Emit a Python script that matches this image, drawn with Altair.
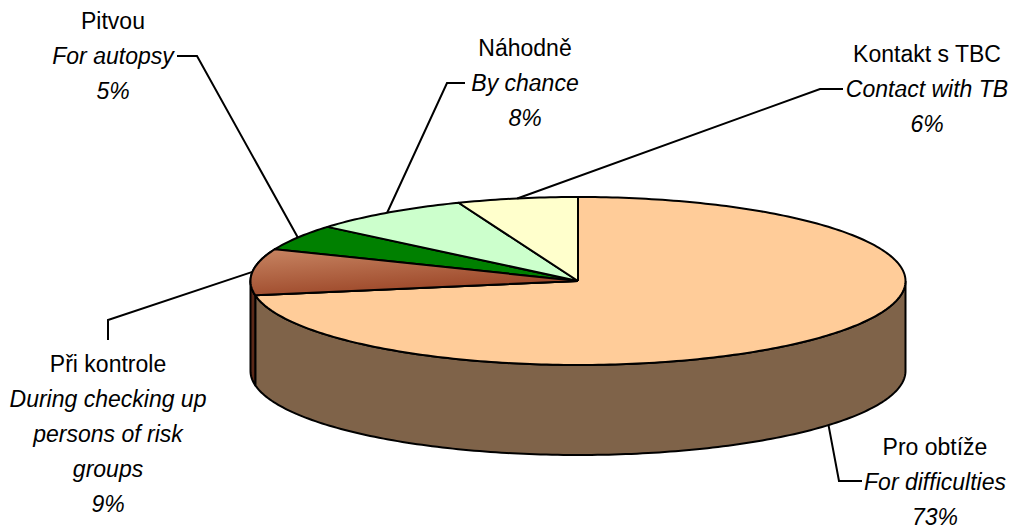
import math
import pandas as pd
import altair as alt

# Reasons for the examination, clockwise from 12 o'clock
names_cz = ["Pro obtíže", "Při kontrole", "Pitvou", "Náhodně", "Kontakt s TBC"]
names_en = [
    ["For difficulties"],
    ["During checking up", "persons of risk", "groups"],
    ["For autopsy"],
    ["By chance"],
    ["Contact with TB"],
]
values = [73, 9, 5, 8, 6]  # percent

top_colors = ["#FFCC99", "#B0603C", "#008000", "#CCFFCC", "#FFFFCC"]
side_colors = ["#7F6349", "#5A2818", "#004000", "#668066", "#808066"]

# Pie geometry (plot units == pixels)
W, H = 1012, 529
CX, CY = 578, 281
RX, RY = 327.5, 84
DEPTH = 90
FONT = "Liberation Sans, Arial, sans-serif"
FONT_SIZE = 23
LINE_GAP = 35

# Label blocks: centre x, first baseline, elbow points of the leader line
label_layout = {
    "Pro obtíže": dict(cx=935, y0=455, leader=[(862, 481), (839, 481)]),
    "Při kontrole": dict(cx=108, y0=372, leader=[(108, 340), (108, 320)]),
    "Pitvou": dict(cx=113, y0=29, leader=[(177, 56), (197, 56)]),
    "Náhodně": dict(cx=525, y0=56, leader=[(465, 83), (447, 83)]),
    "Kontakt s TBC": dict(cx=927, y0=62, leader=[(843, 89), (820, 89)]),
}


def ellipse(deg, drop=0.0):
    t = math.radians(deg)
    return CX + RX * math.sin(t), CY - RY * math.cos(t) + drop


total = float(sum(values))
bounds = []
acc = 0.0
for v in values:
    start = acc / total * 360
    acc += v
    bounds.append((start, acc / total * 360))


def arc(a, b, drop=0.0, step=1.0):
    n = max(2, int(math.ceil(abs(b - a) / step)) + 1)
    return [ellipse(a + (b - a) * k / (n - 1), drop) for k in range(n)]


top_rows, side_rows = [], []
for name, (a, b) in zip(names_cz, bounds):
    pts = [(CX, CY)] + arc(a, b) + [(CX, CY)]
    top_rows += [dict(slice=name, order=i, x=x, y=y) for i, (x, y) in enumerate(pts)]
    lo, hi = max(a, 90.0), min(b, 270.0)
    if hi > lo:
        pts = arc(lo, hi) + arc(hi, lo, DEPTH)
        pts.append(pts[0])
        side_rows += [dict(slice=name, order=i, x=x, y=y) for i, (x, y) in enumerate(pts)]

top_df = pd.DataFrame(top_rows)
side_df = pd.DataFrame(side_rows)

leader_rows, name_rows, italic_rows = [], [], []
for name, en_lines, v, (a, b) in zip(names_cz, names_en, values, bounds):
    lay = label_layout[name]
    mid = (a + b) / 2
    drop = DEPTH if math.cos(math.radians(mid)) < 0 else 0.0
    pts = lay["leader"] + [ellipse(mid, drop)]
    leader_rows += [dict(label=name, order=i, x=x, y=y) for i, (x, y) in enumerate(pts)]
    name_rows.append(dict(x=lay["cx"], y=lay["y0"], text=name))
    for k, line in enumerate(en_lines + [f"{v}%"]):
        italic_rows.append(dict(x=lay["cx"], y=lay["y0"] + LINE_GAP * (k + 1), text=line))

leader_df = pd.DataFrame(leader_rows)
name_df = pd.DataFrame(name_rows)
italic_df = pd.DataFrame(italic_rows)

X = alt.X("x:Q", scale=alt.Scale(domain=[0, W], nice=False, zero=False), axis=None)
Y = alt.Y("y:Q", scale=alt.Scale(domain=[0, H], nice=False, zero=False, reverse=True), axis=None)

side = alt.Chart(side_df).mark_line(stroke="black", strokeWidth=2, strokeJoin="round").encode(
    x=X, y=Y, order="order:Q", detail="slice:N",
    fill=alt.Fill("slice:N", scale=alt.Scale(domain=names_cz, range=side_colors), legend=None),
)

top = alt.Chart(top_df).mark_line(stroke="black", strokeWidth=2, strokeJoin="round").encode(
    x=X, y=Y, order="order:Q", detail="slice:N",
    fill=alt.Fill("slice:N", scale=alt.Scale(domain=names_cz, range=top_colors), legend=None),
)

# shaded face for the brown slice
shaded = alt.Chart(top_df).transform_filter(alt.datum.slice == "Při kontrole").mark_line(
    stroke="black", strokeWidth=2, strokeJoin="round",
    fill=alt.Gradient(
        gradient="linear",
        stops=[alt.GradientStop(color="#C4805E", offset=0), alt.GradientStop(color="#963E20", offset=1)],
        x1=0.2, y1=0, x2=0.7, y2=1,
    ),
).encode(x=X, y=Y, order="order:Q", detail="slice:N")

leaders = alt.Chart(leader_df).mark_line(color="black", strokeWidth=2, strokeJoin="miter").encode(
    x=X, y=Y, order="order:Q", detail="label:N"
)

names_layer = alt.Chart(name_df).mark_text(
    font=FONT, fontSize=FONT_SIZE, align="center", baseline="alphabetic", color="black"
).encode(x=X, y=Y, text="text:N")

italic_layer = alt.Chart(italic_df).mark_text(
    font=FONT, fontSize=FONT_SIZE, fontStyle="italic", align="center", baseline="alphabetic", color="black"
).encode(x=X, y=Y, text="text:N")

chart = alt.layer(side, top, shaded, leaders, names_layer, italic_layer).resolve_scale(
    fill="independent"
).properties(
    width=W, height=H, autosize=alt.AutoSizeParams(type="none"), padding=0
).configure_view(stroke=None)

chart.save("out.html", embed_options={"renderer": "svg", "actions": False})
